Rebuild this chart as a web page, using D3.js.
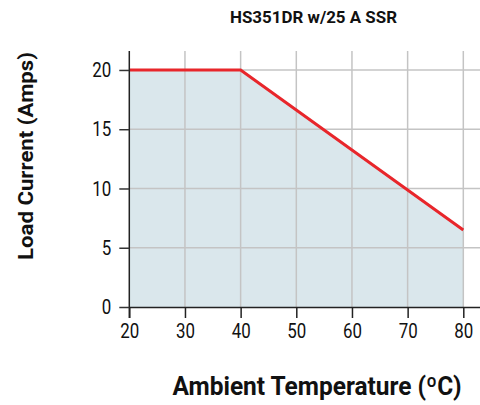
<!DOCTYPE html>
<html><head><meta charset="utf-8">
<script src="https://cdn.jsdelivr.net/npm/d3@7"></script>
<style>
html,body{margin:0;padding:0;background:#fff;}
svg{display:block;}
text{font-family:Roboto,"Liberation Sans",sans-serif;fill:#111;}
</style></head>
<body>
<script>
const temps = [20, 40, 80];
const current = [20, 20, 6.5];
const xTicks = [20, 30, 40, 50, 60, 70, 80];
const yTicks = [0, 5, 10, 15, 20];
const title = "HS351DR w/25 A SSR";
const xTitle = "Ambient Temperature (ºC)";
const yTitle = "Load Current (Amps)";

const W = 480, H = 405;
const m = {left: 129.3, top: 51, right: 0, bottom: 98};
const svg = d3.select("body").append("svg").attr("width", W).attr("height", H);

const x = d3.scaleLinear().domain([20, 83]).range([m.left, W - m.right]);
const y = d3.scaleLinear().domain([0, 21.6]).range([H - m.bottom, m.top]);

const data = temps.map((t, i) => ({t, c: current[i]}));

// area fill
svg.append("path").datum(data)
  .attr("d", d3.area().x(d => x(d.t)).y0(y(0)).y1(d => y(d.c)))
  .attr("fill", "#dae7ec");

// gridlines
const grid = svg.append("g").attr("stroke", "#c4c4c4").attr("stroke-width", 1.5);
grid.selectAll("line.v").data(xTicks.filter(d => d > 20)).join("line")
  .attr("x1", d => x(d)).attr("x2", d => x(d)).attr("y1", m.top).attr("y2", y(0));
grid.selectAll("line.h").data(yTicks.filter(d => d > 0)).join("line")
  .attr("x1", m.left).attr("x2", W).attr("y1", d => y(d)).attr("y2", d => y(d));

// line
svg.append("path").datum(data)
  .attr("d", d3.line().x(d => x(d.t)).y(d => y(d.c)))
  .attr("fill", "none").attr("stroke", "#e8262b").attr("stroke-width", 3);

function styleTicks(sel) {
  sel.selectAll(".tick text").attr("font-size", 21).attr("fill", "#111")
    .attr("font-family", "Roboto, sans-serif")
    .attr("textLength", function() { return this.textContent.length * 9.5; })
    .attr("lengthAdjust", "spacingAndGlyphs");
}

// axes
const xAxis = svg.append("g").attr("transform", `translate(0,${y(0)})`)
  .call(d3.axisBottom(x).tickValues(xTicks).tickSize(11).tickPadding(5).tickSizeOuter(0));
xAxis.select(".domain").attr("d", `M${m.left},0.5H${W}`).attr("stroke", "#222").attr("stroke-width", 1.5);
xAxis.selectAll(".tick line").attr("stroke", "#222").attr("stroke-width", 1.5);
styleTicks(xAxis);

const yAxis = svg.append("g").attr("transform", `translate(${m.left},0)`)
  .call(d3.axisLeft(y).tickValues(yTicks).tickSize(10).tickPadding(8).tickSizeOuter(0));
yAxis.select(".domain").attr("d", `M0,${m.top}V${y(0) + 11}`).attr("stroke", "#222").attr("stroke-width", 1.5);
yAxis.selectAll(".tick line").attr("stroke", "#333").attr("stroke-width", 1.5);
styleTicks(yAxis);

// titles
svg.append("text").attr("x", 313.5).attr("y", 23).attr("text-anchor", "middle")
  .attr("font-size", 17).attr("font-weight", "bold")
  .attr("textLength", 167).attr("lengthAdjust", "spacingAndGlyphs").text(title);
svg.append("text").attr("x", 317).attr("y", 395).attr("text-anchor", "middle")
  .attr("font-size", 25.5).attr("font-weight", "bold")
  .attr("textLength", 289).attr("lengthAdjust", "spacingAndGlyphs").text(xTitle);
svg.append("text").attr("transform", "translate(33,156) rotate(-90)").attr("text-anchor", "middle")
  .attr("font-size", 21).attr("font-weight", "bold")
  .attr("textLength", 208).attr("lengthAdjust", "spacingAndGlyphs").text(yTitle);
</script>
</body></html>
